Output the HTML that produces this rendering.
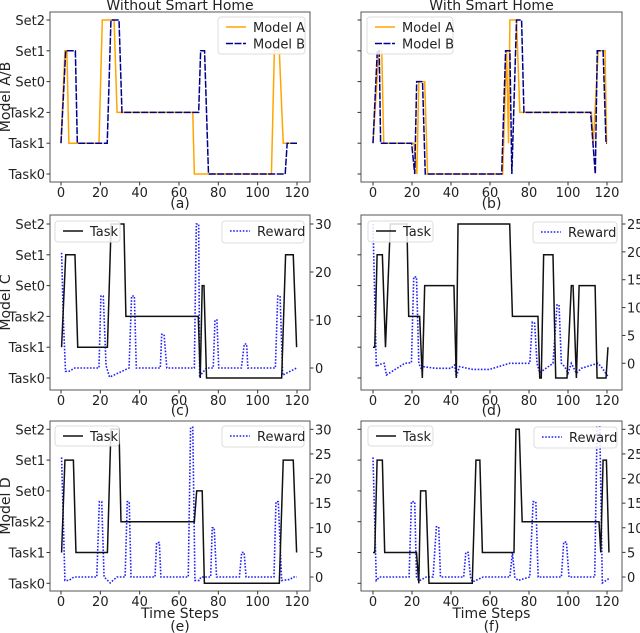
<!DOCTYPE html>
<html><head><meta charset="utf-8">
<style>
html,body{margin:0;padding:0;background:#fff;}
svg{display:block;font-family:"DejaVu Sans","Liberation Sans",sans-serif;}
</style></head>
<body>
<svg id="fig" width="640" height="633" viewBox="0 0 640 633" xmlns="http://www.w3.org/2000/svg"></svg>
<script>
const categories = ["Task0","Task1","Task2","Set0","Set1","Set2"];
const xTicks = [0,20,40,60,80,100,120];
// Panel (a)
const aTimeA = [0,2,3,4,19.3,21,27,28.5,67,67.8,107,108.5,111,113,120];
const aValA  = [1,4,4,1,1,5,5,2,2,0,0,4,4,1,1];
const aTimeB = [0,2.4,7.3,8.3,23.5,25.4,29.5,31,70,71,73,75,114,115,120];
const aValB  = [1,4,4,1,1,5,5,2,2,4,4,0,0,1,1];
// Panel (b)
const bTimeA = [0,3,4.5,5.5,21,22.5,23.5,26.5,28,66.5,68.5,69.5,70.2,73.6,75.3,112,113,115.5,119,119.8,120];
const bValA  = [1,4,4,1,1,0,3,3,0,0,4,1,5,5,2,2,1,4,4,1,1];
const bTimeB = [0,2.2,3.2,3.9,19.8,21.4,22.4,25.4,26.8,66,68,70.2,71.2,73.6,76.2,77.4,111.6,114,115,118,119.5,120];
const bValB  = [1,4,4,1,1,0,3,3,0,0,4,4,0,5,5,2,2,0,4,4,1,1];
// Panel (c)
const cTaskT = [0.3,2.4,7.1,8.5,23.6,25.5,32,33,69.8,70.8,71.8,72.7,74,112.2,114.2,118.1,119.8];
const cTaskV = [1,4,4,1,1,5,5,2,2,0,3,3,0,0,4,4,1];
const cRewT = [0.3,1.2,2.3,4,7,19.3,20.3,21.5,22.9,24.7,34.6,35.9,37.3,38.3,50.5,51.2,52.4,53.8,67.8,68.8,70,70.5,71.5,74,77.4,78.3,79.3,80.2,91.7,93.2,94.4,95,109,110.2,111.4,112.7,116,119.8];
const cRewV = [24,10,-0.7,-0.7,0,0,15,15,0.5,-1.9,0,15,15,0,0,7,7,0,0,30,30,-2,-1.2,0,0,10,10,0,0,5,5,0,0,15,15,-1.5,-0.8,0];
// Panel (d)
const dTaskT = [0,0.9,2.1,4.8,6.4,8.9,17.4,18.3,23.9,25.3,26.5,41.5,42.7,43.6,70.1,71.5,84.6,85.5,86.3,87.5,92.3,93.7,99.5,101.7,102.6,104.3,105.7,113.9,114.9,119.5,120.5];
const dTaskV = [1,1,4,4,1,5,5,2,2,0,3,3,0,5,5,2,2,0,0,4,4,0,0,3,3,0,3,3,0,0,1];
const dRewT = [0,1.7,3.4,5.7,6.9,16.3,19.7,20.9,22.3,23.5,25,25.8,32,40,41.9,42.7,44.4,51.2,59.7,70,80.4,81.7,82.9,84.1,85.5,92.3,94.4,95.4,96.6,98.3,100,101.7,104.3,106.8,115.3,117,120.4];
const dRewV = [25,-0.6,-0.2,0,-2.1,0,0.1,15.5,15.5,0,-1.2,-0.6,-0.9,-0.9,-0.3,-2.4,-0.6,-1.1,-1.1,0,0,7.4,7.2,0,-1.7,0,10.5,10.5,0,-0.6,-1.8,0,-1.8,-0.9,0,-0.6,-2.3];
// Panel (e)
const eTaskT = [0.3,2,6.3,7.6,23.6,25.4,29.5,30.5,67.8,69,71.8,72.9,111,113,118.1,119.8];
const eTaskV = [1,4,4,1,1,5,5,2,2,3,3,0,0,4,4,1];
const eRewT = [0.3,2,4,6.6,18.2,19.5,20.7,21.9,25,28.4,32.6,33.7,34.7,35.6,47.8,48.6,50,50.8,64.7,65.9,67,68.1,70.3,71.2,76.1,76.9,77.9,79.1,90.7,91.9,93.1,94.1,108.3,109.3,110.5,112.2,116.5,118,120];
const eRewV = [24.3,-0.7,-0.7,0,0,15.3,15.3,0,-1.2,0,0,15.3,15.3,0,0,7,7,0,0,30.4,30.4,-0.7,-0.7,0,0,10,10,0,0,5,5,0,0,15.3,15.3,-0.7,-0.5,0,0];
// Panel (f)
const fTaskT = [0,0.9,2.1,4.8,6,22.3,23.5,24.4,27.1,28.7,50.9,52.8,54.8,56.1,72.3,73.3,75,76.5,115.9,116.8,118,119.7,121];
const fTaskV = [1,1,4,4,1,1,0,3,3,0,0,4,4,1,1,5,5,2,2,1,4,4,1];
const fRewT = [0,1.7,3.4,18.5,19.7,21.4,22.3,23.6,27.4,30.8,32.5,33.7,34.6,46.5,47.6,48.8,50,51,56.5,70.2,71.5,72.7,74.4,80.4,82.1,83.5,84.7,96.6,97.8,99.2,100.5,113.7,114.9,116.3,117.6,121];
const fRewV = [24.3,-0.7,0,0,15.3,15.3,0,-0.8,0,0,10.2,10.2,0,0,5,5,0,-1,0,0,5,0,-0.7,0,15.3,15.3,0,0,7.1,7.1,0,0,30.5,30.5,-1.2,-0.3];
const rewTicksC = [0,10,20,30];
const rewTicksD = [0,5,10,15,20,25];
const rewTicksEF = [0,5,10,15,20,25,30];

const NS="http://www.w3.org/2000/svg";
const fig=document.getElementById('fig');
function mk(tag,attrs,parent,name,inter){
  const e=document.createElementNS(NS,tag);
  for(const k in attrs)e.setAttribute(k,attrs[k]);
  
  
  (parent||fig).appendChild(e);return e;
}
function txt(x,y,s,size,anchor,name,parent,extra){
  const t=mk('text',Object.assign({x:x,y:y,'font-size':size,'text-anchor':anchor||'middle',fill:'#222'},extra||{}),parent,name,false);
  t.textContent=s;return t;
}
function panel(p){
  const g=mk('g',{},fig,'panel-'+p.id,false);
  const X=t=>p.x0+(t)*(p.x120-p.x0)/120;
  const Y=v=>p.yT0+(p.yS2-p.yT0)*v/5;
  const clipId='clip'+p.id;
  const cp=mk('clipPath',{id:clipId},g,'clip',false);
  mk('rect',{x:p.L,y:p.T,width:p.R-p.L,height:p.B-p.T},cp,'clip-rect',false);
  const plot=mk('g',{'clip-path':'url(#'+clipId+')'},g,'plot-area',false);
  function line(ts,vs,yf,style,name){
    let d='';for(let i=0;i<ts.length;i++){d+=(i?'L':'M')+X(ts[i]).toFixed(2)+','+yf(vs[i]).toFixed(2);}
    mk('path',Object.assign({d:d,fill:'none'},style),plot,name,false);
  }
  if(p.series){
    p.series.forEach(s=>line(s.t,s.v,Y,s.style,s.name));
  } else {
    const R=v=>p.r0+(p.rTop-p.r0)*v/p.rTopVal;
    line(p.rt,p.rv,R,{stroke:'#1f1fff','stroke-width':1.6,'stroke-dasharray':'1.6,1.6'},'reward-line');
    line(p.tt,p.tv,Y,{stroke:'#111','stroke-width':1.5},'task-line');
    p.rTicks.forEach(v=>{const y=R(v);
      mk('line',{x1:p.R,x2:p.R+3.5,y1:y,y2:y,stroke:'#333'},g,'right-tick',false);
      txt(p.R+5,y+5,String(v),13,'start','right-tick-label-'+v,g);});
  }
  mk('rect',{x:p.L,y:p.T,width:p.R-p.L,height:p.B-p.T,fill:'none',stroke:'#555','stroke-width':1},g,'axes-frame',false);
  xTicks.forEach(v=>{const x=X(v);
    mk('line',{x1:x,x2:x,y1:p.B,y2:p.B+3.5,stroke:'#333'},g,'x-tick',false);
    txt(x,p.B+15,String(v),13,'middle','x-tick-label-'+v,g);});
  categories.forEach((c,i)=>{const y=Y(i);
    mk('line',{x1:p.L-3.5,x2:p.L,y1:y,y2:y,stroke:'#333'},g,'y-tick',false);
    if(p.leftLabels)txt(p.L-5,y+5,c,13,'end','y-tick-label-'+c,g);});
  if(p.xlabel)txt((p.L+p.R)/2,p.B+27,p.xlabel,14,'middle','x-axis-title',g);
  txt((p.L+p.R)/2,p.capY,p.cap,14,'middle','caption-'+p.id,g);
  if(p.title)txt((p.L+p.R)/2,10,p.title,14,'middle','panel-title',g);
  if(p.ylabel){txt(0,0,p.ylabel,14,'middle','y-axis-title',g,{transform:'translate(10,'+((p.T+p.B)/2)+') rotate(-90)'});}
  (p.legends||[]).forEach(L=>{
    const lg=mk('g',{},g,'legend',false);
    mk('rect',{x:L.x,y:L.y,width:L.w,height:L.h,rx:3,fill:'#fff','fill-opacity':0.85,stroke:'#ddd'},lg,'legend-box',false);
    L.items.forEach((it,k)=>{const yy=L.y+10+k*16.5;
      mk('line',Object.assign({x1:L.x+8,x2:L.x+28,y1:yy,y2:yy},it.style),lg,'legend-swatch',false);
      txt(L.x+35,yy+5,it.label,13,'start','legend-entry-'+it.label.replace(/\s/g,'-').toLowerCase(),lg);});
  });
}
const stA={stroke:'#ffa500','stroke-width':1.5}, stB={stroke:'#00008b','stroke-width':1.5,'stroke-dasharray':'7,1.5'};
const stT={stroke:'#111','stroke-width':1.5}, stR={stroke:'#1f1fff','stroke-width':1.6,'stroke-dasharray':'1.6,1.6'};
panel({id:'a',L:50,R:310,T:12,B:182,x0:61,x120:297,yS2:20,yT0:174,leftLabels:true,ylabel:'Model A/B',title:'Without Smart Home',cap:'(a)',capY:208,
  series:[{t:aTimeA,v:aValA,style:stA,name:'model-a-line'},{t:aTimeB,v:aValB,style:stB,name:'model-b-line'}],
  legends:[{x:218,y:17,w:87,h:37,items:[{label:'Model A',style:stA},{label:'Model B',style:stB}]}]});
panel({id:'b',L:361,R:622,T:12,B:182,x0:373,x120:607,yS2:20,yT0:174,leftLabels:false,title:'With Smart Home',cap:'(b)',capY:208,
  series:[{t:bTimeA,v:bValA,style:stA,name:'model-a-line'},{t:bTimeB,v:bValB,style:stB,name:'model-b-line'}],
  legends:[{x:367,y:17,w:86,h:37,items:[{label:'Model A',style:stA},{label:'Model B',style:stB}]}]});
panel({id:'c',L:50,R:310,T:215,B:390,x0:61,x120:297,yS2:224,yT0:378,leftLabels:true,ylabel:'Model C',cap:'(c)',capY:415,
  tt:cTaskT,tv:cTaskV,rt:cRewT,rv:cRewV,r0:368,rTop:224,rTopVal:30,rTicks:rewTicksC,
  legends:[{x:55,y:221,w:65,h:21,items:[{label:'Task',style:stT}]},{x:222,y:221,w:82,h:22,items:[{label:'Reward',style:stR}]}]});
panel({id:'d',L:361,R:622,T:215,B:390,x0:373,x120:607,yS2:224,yT0:378,leftLabels:false,cap:'(d)',capY:415,
  tt:dTaskT,tv:dTaskV,rt:dRewT,rv:dRewV,r0:363.3,rTop:224,rTopVal:25,rTicks:rewTicksD,
  legends:[{x:368,y:221,w:65,h:21,items:[{label:'Task',style:stT}]},{x:533,y:222,w:84,h:21,items:[{label:'Reward',style:stR}]}]});
panel({id:'e',L:50,R:310,T:421,B:591,x0:61,x120:297,yS2:429.3,yT0:583.3,leftLabels:true,ylabel:'Model D',xlabel:'Time Steps',cap:'(e)',capY:631,
  tt:eTaskT,tv:eTaskV,rt:eRewT,rv:eRewV,r0:577,rTop:429.3,rTopVal:30,rTicks:rewTicksEF,
  legends:[{x:55,y:426,w:64,h:20,items:[{label:'Task',style:stT}]},{x:222,y:426,w:82,h:21,items:[{label:'Reward',style:stR}]}]});
panel({id:'f',L:361,R:622,T:421,B:591,x0:373,x120:607,yS2:429.3,yT0:583.3,leftLabels:false,xlabel:'Time Steps',cap:'(f)',capY:631,
  tt:fTaskT,tv:fTaskV,rt:fRewT,rv:fRewV,r0:577,rTop:429.3,rTopVal:30,rTicks:rewTicksEF,
  legends:[{x:368,y:426,w:65,h:20,items:[{label:'Task',style:stT}]},{x:534,y:427,w:83,h:21,items:[{label:'Reward',style:stR}]}]});
</script>
</body></html>
